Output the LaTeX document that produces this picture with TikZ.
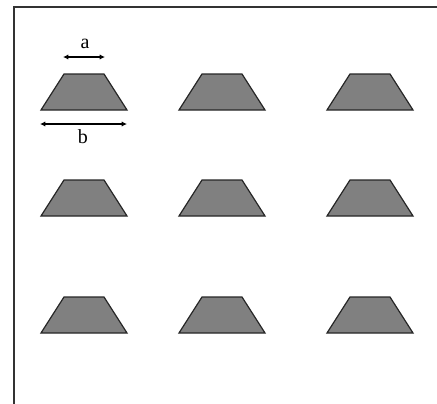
\documentclass[tikz,border=0pt]{standalone}
\usepackage{fontspec}
\setmainfont{Liberation Serif}
\usetikzlibrary{arrows.meta}
\definecolor{trapgray}{RGB}{128,128,128}

\begin{document}
\begin{tikzpicture}[x=0.75pt,y=-0.75pt,>={Latex[length=4pt,width=4pt]}]
  \tikzset{trap/.style={draw=black!85,fill=trapgray,line width=0.9pt,line join=miter}}
  \useasboundingbox (0,0) rectangle (437,404);
  \draw[line width=1pt,black!80] (14,404) -- (14,7) -- (437,7);

  \foreach \x in {84,222,370}{
    \foreach \y in {110,216,333}{
      \draw[trap] (\x-43,\y) -- (\x-20,\y-36) -- (\x+20,\y-36) -- (\x+43,\y) -- cycle;
    }
  }

  \coordinate (a1) at (63,57);
  \coordinate (a2) at (105,57);
  \coordinate (b1) at (40,124);
  \coordinate (b2) at (127,124);
  \draw[<->,line width=0.8pt] (a1) -- (a2);
  \draw[<->,line width=0.8pt] (b1) -- (b2);
  \node[font=\fontsize{15}{17}\selectfont] (la) at (85,44) {a};
  \node[font=\fontsize{15}{17}\selectfont] (lb) at (83,137) {b};
\end{tikzpicture}
\end{document}
